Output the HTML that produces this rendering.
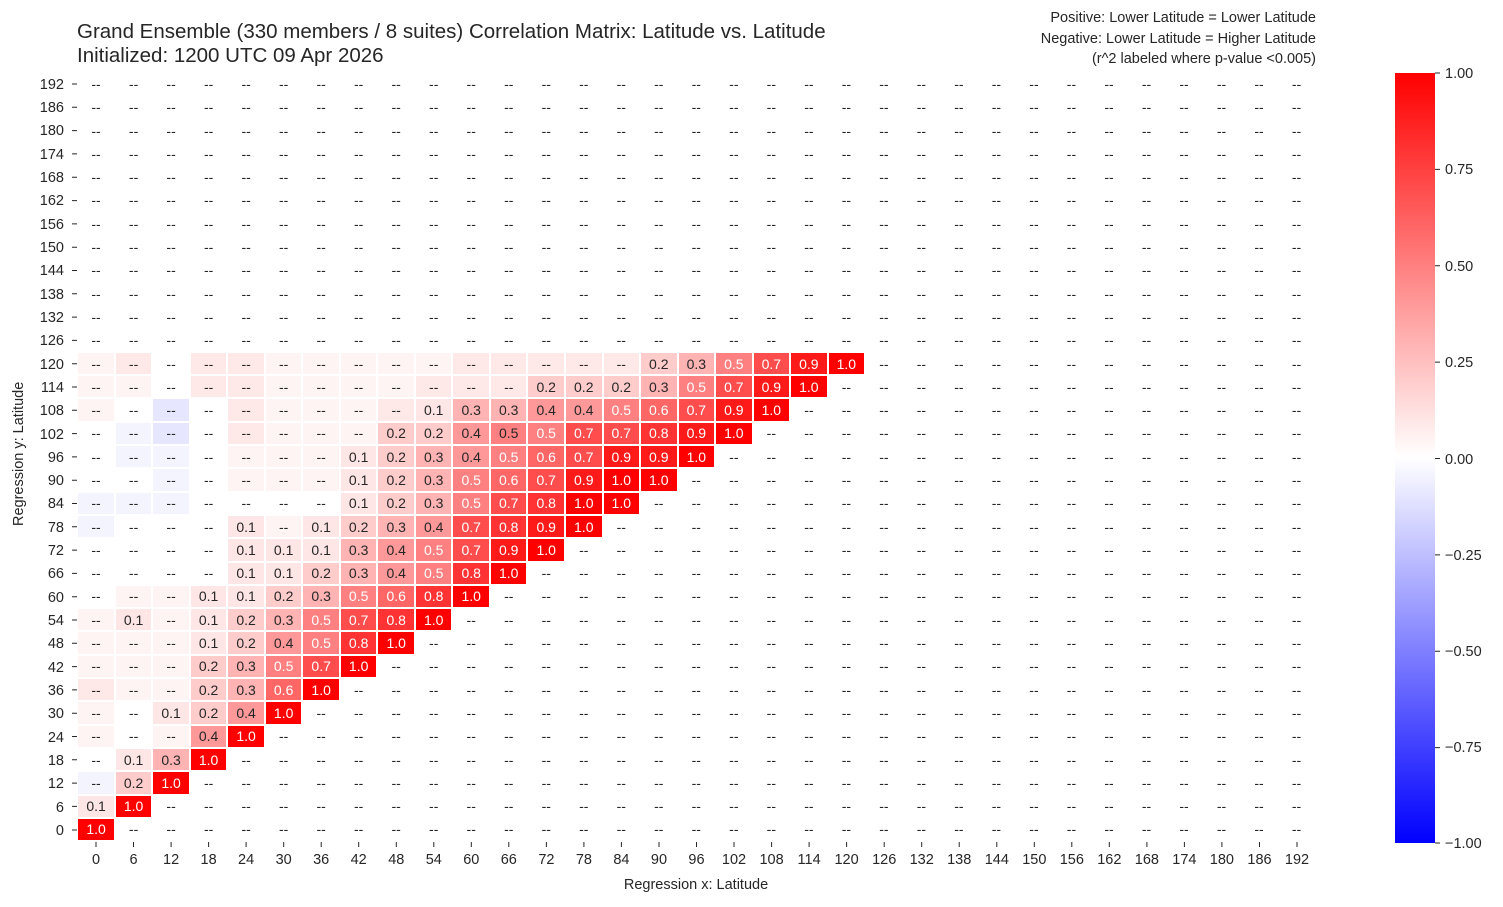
<!DOCTYPE html>
<html><head><meta charset="utf-8"><style>
body{margin:0;width:1503px;height:907px;background:#fff;font-family:"Liberation Sans",sans-serif;color:#262626;position:relative;overflow:hidden}
.t{position:absolute;white-space:nowrap}
.g{position:absolute;left:77.3px;top:72.3px;width:1238.5px}
.r{display:flex;height:23.31px}
.r i{width:37.53px;height:23.31px;box-sizing:border-box;border:0.5px solid #fff;display:flex;align-items:center;justify-content:center;font-style:normal;font-size:14px;color:#262626}
.p{background:#fff4f4}.q{background:#ffe8e8}.b{background:#f4f4ff}.bb{background:#e6e6ff}
.a1{background:#ffe6e6}.a2{background:#ffcccc}.a3{background:#ffb3b3}.a4{background:#ff9999}
.a5,.d{background:#ff8080}.a6{background:#ff6666}.a7{background:#ff4d4d}.a8{background:#ff3333}.a9{background:#ff1a1a}.a10{background:#ff0000}
.r .a5,.r .a6,.r .a7,.r .a8,.r .a9,.r .a10{color:#fff}
.yl{position:absolute;left:30px;width:34px;text-align:right;font-size:14.5px}
.xl{position:absolute;top:852px;width:40px;text-align:center;font-size:14.5px}
.cl{position:absolute;left:1445px;font-size:14.5px}
</style></head><body>
<div class="t" style="left:77px;top:20px;font-size:20.5px;line-height:24px">Grand Ensemble (330 members / 8 suites) Correlation Matrix: Latitude vs. Latitude<br>Initialized: 1200 UTC 09 Apr 2026</div>
<div class="t" style="right:187px;top:8px;font-size:14.5px;line-height:20.5px;text-align:right">Positive: Lower Latitude = Lower Latitude<br>Negative: Lower Latitude = Higher Latitude<br>(r^2 labeled where p-value &lt;0.005)</div>
<div class="g">
<div class="r"><i>--</i><i>--</i><i>--</i><i>--</i><i>--</i><i>--</i><i>--</i><i>--</i><i>--</i><i>--</i><i>--</i><i>--</i><i>--</i><i>--</i><i>--</i><i>--</i><i>--</i><i>--</i><i>--</i><i>--</i><i>--</i><i>--</i><i>--</i><i>--</i><i>--</i><i>--</i><i>--</i><i>--</i><i>--</i><i>--</i><i>--</i><i>--</i><i>--</i></div>
<div class="r"><i>--</i><i>--</i><i>--</i><i>--</i><i>--</i><i>--</i><i>--</i><i>--</i><i>--</i><i>--</i><i>--</i><i>--</i><i>--</i><i>--</i><i>--</i><i>--</i><i>--</i><i>--</i><i>--</i><i>--</i><i>--</i><i>--</i><i>--</i><i>--</i><i>--</i><i>--</i><i>--</i><i>--</i><i>--</i><i>--</i><i>--</i><i>--</i><i>--</i></div>
<div class="r"><i>--</i><i>--</i><i>--</i><i>--</i><i>--</i><i>--</i><i>--</i><i>--</i><i>--</i><i>--</i><i>--</i><i>--</i><i>--</i><i>--</i><i>--</i><i>--</i><i>--</i><i>--</i><i>--</i><i>--</i><i>--</i><i>--</i><i>--</i><i>--</i><i>--</i><i>--</i><i>--</i><i>--</i><i>--</i><i>--</i><i>--</i><i>--</i><i>--</i></div>
<div class="r"><i>--</i><i>--</i><i>--</i><i>--</i><i>--</i><i>--</i><i>--</i><i>--</i><i>--</i><i>--</i><i>--</i><i>--</i><i>--</i><i>--</i><i>--</i><i>--</i><i>--</i><i>--</i><i>--</i><i>--</i><i>--</i><i>--</i><i>--</i><i>--</i><i>--</i><i>--</i><i>--</i><i>--</i><i>--</i><i>--</i><i>--</i><i>--</i><i>--</i></div>
<div class="r"><i>--</i><i>--</i><i>--</i><i>--</i><i>--</i><i>--</i><i>--</i><i>--</i><i>--</i><i>--</i><i>--</i><i>--</i><i>--</i><i>--</i><i>--</i><i>--</i><i>--</i><i>--</i><i>--</i><i>--</i><i>--</i><i>--</i><i>--</i><i>--</i><i>--</i><i>--</i><i>--</i><i>--</i><i>--</i><i>--</i><i>--</i><i>--</i><i>--</i></div>
<div class="r"><i>--</i><i>--</i><i>--</i><i>--</i><i>--</i><i>--</i><i>--</i><i>--</i><i>--</i><i>--</i><i>--</i><i>--</i><i>--</i><i>--</i><i>--</i><i>--</i><i>--</i><i>--</i><i>--</i><i>--</i><i>--</i><i>--</i><i>--</i><i>--</i><i>--</i><i>--</i><i>--</i><i>--</i><i>--</i><i>--</i><i>--</i><i>--</i><i>--</i></div>
<div class="r"><i>--</i><i>--</i><i>--</i><i>--</i><i>--</i><i>--</i><i>--</i><i>--</i><i>--</i><i>--</i><i>--</i><i>--</i><i>--</i><i>--</i><i>--</i><i>--</i><i>--</i><i>--</i><i>--</i><i>--</i><i>--</i><i>--</i><i>--</i><i>--</i><i>--</i><i>--</i><i>--</i><i>--</i><i>--</i><i>--</i><i>--</i><i>--</i><i>--</i></div>
<div class="r"><i>--</i><i>--</i><i>--</i><i>--</i><i>--</i><i>--</i><i>--</i><i>--</i><i>--</i><i>--</i><i>--</i><i>--</i><i>--</i><i>--</i><i>--</i><i>--</i><i>--</i><i>--</i><i>--</i><i>--</i><i>--</i><i>--</i><i>--</i><i>--</i><i>--</i><i>--</i><i>--</i><i>--</i><i>--</i><i>--</i><i>--</i><i>--</i><i>--</i></div>
<div class="r"><i>--</i><i>--</i><i>--</i><i>--</i><i>--</i><i>--</i><i>--</i><i>--</i><i>--</i><i>--</i><i>--</i><i>--</i><i>--</i><i>--</i><i>--</i><i>--</i><i>--</i><i>--</i><i>--</i><i>--</i><i>--</i><i>--</i><i>--</i><i>--</i><i>--</i><i>--</i><i>--</i><i>--</i><i>--</i><i>--</i><i>--</i><i>--</i><i>--</i></div>
<div class="r"><i>--</i><i>--</i><i>--</i><i>--</i><i>--</i><i>--</i><i>--</i><i>--</i><i>--</i><i>--</i><i>--</i><i>--</i><i>--</i><i>--</i><i>--</i><i>--</i><i>--</i><i>--</i><i>--</i><i>--</i><i>--</i><i>--</i><i>--</i><i>--</i><i>--</i><i>--</i><i>--</i><i>--</i><i>--</i><i>--</i><i>--</i><i>--</i><i>--</i></div>
<div class="r"><i>--</i><i>--</i><i>--</i><i>--</i><i>--</i><i>--</i><i>--</i><i>--</i><i>--</i><i>--</i><i>--</i><i>--</i><i>--</i><i>--</i><i>--</i><i>--</i><i>--</i><i>--</i><i>--</i><i>--</i><i>--</i><i>--</i><i>--</i><i>--</i><i>--</i><i>--</i><i>--</i><i>--</i><i>--</i><i>--</i><i>--</i><i>--</i><i>--</i></div>
<div class="r"><i>--</i><i>--</i><i>--</i><i>--</i><i>--</i><i>--</i><i>--</i><i>--</i><i>--</i><i>--</i><i>--</i><i>--</i><i>--</i><i>--</i><i>--</i><i>--</i><i>--</i><i>--</i><i>--</i><i>--</i><i>--</i><i>--</i><i>--</i><i>--</i><i>--</i><i>--</i><i>--</i><i>--</i><i>--</i><i>--</i><i>--</i><i>--</i><i>--</i></div>
<!-- 120 -->
<div class="r"><i class="p">--</i><i class="q">--</i><i>--</i><i class="q">--</i><i class="q">--</i><i class="p">--</i><i class="p">--</i><i class="p">--</i><i class="p">--</i><i class="p">--</i><i class="q">--</i><i class="q">--</i><i class="q">--</i><i class="q">--</i><i class="q">--</i><i class="a2">0.2</i><i class="a3">0.3</i><i class="a5">0.5</i><i class="a7">0.7</i><i class="a9">0.9</i><i class="a10">1.0</i><i>--</i><i>--</i><i>--</i><i>--</i><i>--</i><i>--</i><i>--</i><i>--</i><i>--</i><i>--</i><i>--</i><i>--</i></div>
<!-- 114 -->
<div class="r"><i class="p">--</i><i class="p">--</i><i>--</i><i class="q">--</i><i class="q">--</i><i class="p">--</i><i class="p">--</i><i class="p">--</i><i class="p">--</i><i class="q">--</i><i class="q">--</i><i class="q">--</i><i class="a2">0.2</i><i class="a2">0.2</i><i class="a2">0.2</i><i class="a3">0.3</i><i class="a5">0.5</i><i class="a7">0.7</i><i class="a9">0.9</i><i class="a10">1.0</i><i>--</i><i>--</i><i>--</i><i>--</i><i>--</i><i>--</i><i>--</i><i>--</i><i>--</i><i>--</i><i>--</i><i>--</i><i>--</i></div>
<!-- 108 -->
<div class="r"><i class="p">--</i><i>--</i><i class="bb">--</i><i>--</i><i class="q">--</i><i class="p">--</i><i class="p">--</i><i class="p">--</i><i class="q">--</i><i class="a1">0.1</i><i class="a3">0.3</i><i class="a3">0.3</i><i class="a4">0.4</i><i class="a4">0.4</i><i class="a5">0.5</i><i class="a6">0.6</i><i class="a7">0.7</i><i class="a9">0.9</i><i class="a10">1.0</i><i>--</i><i>--</i><i>--</i><i>--</i><i>--</i><i>--</i><i>--</i><i>--</i><i>--</i><i>--</i><i>--</i><i>--</i><i>--</i><i>--</i></div>
<!-- 102 -->
<div class="r"><i>--</i><i class="b">--</i><i class="bb">--</i><i>--</i><i class="q">--</i><i class="p">--</i><i class="p">--</i><i class="p">--</i><i class="a2">0.2</i><i class="a2">0.2</i><i class="a4">0.4</i><i class="d">0.5</i><i class="a5">0.5</i><i class="a7">0.7</i><i class="a7">0.7</i><i class="a8">0.8</i><i class="a9">0.9</i><i class="a10">1.0</i><i>--</i><i>--</i><i>--</i><i>--</i><i>--</i><i>--</i><i>--</i><i>--</i><i>--</i><i>--</i><i>--</i><i>--</i><i>--</i><i>--</i><i>--</i></div>
<!-- 96 -->
<div class="r"><i>--</i><i class="b">--</i><i class="b">--</i><i>--</i><i class="p">--</i><i class="p">--</i><i class="p">--</i><i class="a1">0.1</i><i class="a2">0.2</i><i class="a3">0.3</i><i class="a4">0.4</i><i class="a5">0.5</i><i class="a6">0.6</i><i class="a7">0.7</i><i class="a9">0.9</i><i class="a9">0.9</i><i class="a10">1.0</i><i>--</i><i>--</i><i>--</i><i>--</i><i>--</i><i>--</i><i>--</i><i>--</i><i>--</i><i>--</i><i>--</i><i>--</i><i>--</i><i>--</i><i>--</i><i>--</i></div>
<!-- 90 -->
<div class="r"><i>--</i><i>--</i><i class="b">--</i><i>--</i><i class="p">--</i><i class="p">--</i><i class="p">--</i><i class="a1">0.1</i><i class="a2">0.2</i><i class="a3">0.3</i><i class="a5">0.5</i><i class="a6">0.6</i><i class="a7">0.7</i><i class="a9">0.9</i><i class="a10">1.0</i><i class="a10">1.0</i><i>--</i><i>--</i><i>--</i><i>--</i><i>--</i><i>--</i><i>--</i><i>--</i><i>--</i><i>--</i><i>--</i><i>--</i><i>--</i><i>--</i><i>--</i><i>--</i><i>--</i></div>
<!-- 84 -->
<div class="r"><i class="b">--</i><i class="b">--</i><i class="b">--</i><i>--</i><i>--</i><i>--</i><i>--</i><i class="a1">0.1</i><i class="a2">0.2</i><i class="a3">0.3</i><i class="a5">0.5</i><i class="a7">0.7</i><i class="a8">0.8</i><i class="a10">1.0</i><i class="a10">1.0</i><i>--</i><i>--</i><i>--</i><i>--</i><i>--</i><i>--</i><i>--</i><i>--</i><i>--</i><i>--</i><i>--</i><i>--</i><i>--</i><i>--</i><i>--</i><i>--</i><i>--</i><i>--</i></div>
<!-- 78 -->
<div class="r"><i class="b">--</i><i>--</i><i>--</i><i>--</i><i class="a1">0.1</i><i class="p">--</i><i class="a1">0.1</i><i class="a2">0.2</i><i class="a3">0.3</i><i class="a4">0.4</i><i class="a7">0.7</i><i class="a8">0.8</i><i class="a9">0.9</i><i class="a10">1.0</i><i>--</i><i>--</i><i>--</i><i>--</i><i>--</i><i>--</i><i>--</i><i>--</i><i>--</i><i>--</i><i>--</i><i>--</i><i>--</i><i>--</i><i>--</i><i>--</i><i>--</i><i>--</i><i>--</i></div>
<!-- 72 -->
<div class="r"><i>--</i><i>--</i><i>--</i><i>--</i><i class="a1">0.1</i><i class="a1">0.1</i><i class="a1">0.1</i><i class="a3">0.3</i><i class="a4">0.4</i><i class="a5">0.5</i><i class="a7">0.7</i><i class="a9">0.9</i><i class="a10">1.0</i><i>--</i><i>--</i><i>--</i><i>--</i><i>--</i><i>--</i><i>--</i><i>--</i><i>--</i><i>--</i><i>--</i><i>--</i><i>--</i><i>--</i><i>--</i><i>--</i><i>--</i><i>--</i><i>--</i><i>--</i></div>
<!-- 66 -->
<div class="r"><i>--</i><i>--</i><i>--</i><i>--</i><i class="a1">0.1</i><i class="a1">0.1</i><i class="a2">0.2</i><i class="a3">0.3</i><i class="a4">0.4</i><i class="a5">0.5</i><i class="a8">0.8</i><i class="a10">1.0</i><i>--</i><i>--</i><i>--</i><i>--</i><i>--</i><i>--</i><i>--</i><i>--</i><i>--</i><i>--</i><i>--</i><i>--</i><i>--</i><i>--</i><i>--</i><i>--</i><i>--</i><i>--</i><i>--</i><i>--</i><i>--</i></div>
<!-- 60 -->
<div class="r"><i>--</i><i class="p">--</i><i class="p">--</i><i class="a1">0.1</i><i class="a1">0.1</i><i class="a2">0.2</i><i class="a3">0.3</i><i class="a5">0.5</i><i class="a6">0.6</i><i class="a8">0.8</i><i class="a10">1.0</i><i>--</i><i>--</i><i>--</i><i>--</i><i>--</i><i>--</i><i>--</i><i>--</i><i>--</i><i>--</i><i>--</i><i>--</i><i>--</i><i>--</i><i>--</i><i>--</i><i>--</i><i>--</i><i>--</i><i>--</i><i>--</i><i>--</i></div>
<!-- 54 -->
<div class="r"><i class="p">--</i><i class="a1">0.1</i><i class="p">--</i><i class="a1">0.1</i><i class="a2">0.2</i><i class="a3">0.3</i><i class="a5">0.5</i><i class="a7">0.7</i><i class="a8">0.8</i><i class="a10">1.0</i><i>--</i><i>--</i><i>--</i><i>--</i><i>--</i><i>--</i><i>--</i><i>--</i><i>--</i><i>--</i><i>--</i><i>--</i><i>--</i><i>--</i><i>--</i><i>--</i><i>--</i><i>--</i><i>--</i><i>--</i><i>--</i><i>--</i><i>--</i></div>
<!-- 48 -->
<div class="r"><i class="p">--</i><i class="p">--</i><i class="p">--</i><i class="a1">0.1</i><i class="a2">0.2</i><i class="a4">0.4</i><i class="a5">0.5</i><i class="a8">0.8</i><i class="a10">1.0</i><i>--</i><i>--</i><i>--</i><i>--</i><i>--</i><i>--</i><i>--</i><i>--</i><i>--</i><i>--</i><i>--</i><i>--</i><i>--</i><i>--</i><i>--</i><i>--</i><i>--</i><i>--</i><i>--</i><i>--</i><i>--</i><i>--</i><i>--</i><i>--</i></div>
<!-- 42 -->
<div class="r"><i class="p">--</i><i class="p">--</i><i class="p">--</i><i class="a2">0.2</i><i class="a3">0.3</i><i class="a5">0.5</i><i class="a7">0.7</i><i class="a10">1.0</i><i>--</i><i>--</i><i>--</i><i>--</i><i>--</i><i>--</i><i>--</i><i>--</i><i>--</i><i>--</i><i>--</i><i>--</i><i>--</i><i>--</i><i>--</i><i>--</i><i>--</i><i>--</i><i>--</i><i>--</i><i>--</i><i>--</i><i>--</i><i>--</i><i>--</i></div>
<!-- 36 -->
<div class="r"><i class="q">--</i><i class="p">--</i><i class="p">--</i><i class="a2">0.2</i><i class="a3">0.3</i><i class="a6">0.6</i><i class="a10">1.0</i><i>--</i><i>--</i><i>--</i><i>--</i><i>--</i><i>--</i><i>--</i><i>--</i><i>--</i><i>--</i><i>--</i><i>--</i><i>--</i><i>--</i><i>--</i><i>--</i><i>--</i><i>--</i><i>--</i><i>--</i><i>--</i><i>--</i><i>--</i><i>--</i><i>--</i><i>--</i></div>
<!-- 30 -->
<div class="r"><i class="p">--</i><i>--</i><i class="a1">0.1</i><i class="a2">0.2</i><i class="a4">0.4</i><i class="a10">1.0</i><i>--</i><i>--</i><i>--</i><i>--</i><i>--</i><i>--</i><i>--</i><i>--</i><i>--</i><i>--</i><i>--</i><i>--</i><i>--</i><i>--</i><i>--</i><i>--</i><i>--</i><i>--</i><i>--</i><i>--</i><i>--</i><i>--</i><i>--</i><i>--</i><i>--</i><i>--</i><i>--</i></div>
<!-- 24 -->
<div class="r"><i class="p">--</i><i>--</i><i class="p">--</i><i class="a4">0.4</i><i class="a10">1.0</i><i>--</i><i>--</i><i>--</i><i>--</i><i>--</i><i>--</i><i>--</i><i>--</i><i>--</i><i>--</i><i>--</i><i>--</i><i>--</i><i>--</i><i>--</i><i>--</i><i>--</i><i>--</i><i>--</i><i>--</i><i>--</i><i>--</i><i>--</i><i>--</i><i>--</i><i>--</i><i>--</i><i>--</i></div>
<!-- 18 -->
<div class="r"><i>--</i><i class="a1">0.1</i><i class="a3">0.3</i><i class="a10">1.0</i><i>--</i><i>--</i><i>--</i><i>--</i><i>--</i><i>--</i><i>--</i><i>--</i><i>--</i><i>--</i><i>--</i><i>--</i><i>--</i><i>--</i><i>--</i><i>--</i><i>--</i><i>--</i><i>--</i><i>--</i><i>--</i><i>--</i><i>--</i><i>--</i><i>--</i><i>--</i><i>--</i><i>--</i><i>--</i></div>
<!-- 12 -->
<div class="r"><i class="b">--</i><i class="a2">0.2</i><i class="a10">1.0</i><i>--</i><i>--</i><i>--</i><i>--</i><i>--</i><i>--</i><i>--</i><i>--</i><i>--</i><i>--</i><i>--</i><i>--</i><i>--</i><i>--</i><i>--</i><i>--</i><i>--</i><i>--</i><i>--</i><i>--</i><i>--</i><i>--</i><i>--</i><i>--</i><i>--</i><i>--</i><i>--</i><i>--</i><i>--</i><i>--</i></div>
<!-- 6 -->
<div class="r"><i class="a1">0.1</i><i class="a10">1.0</i><i>--</i><i>--</i><i>--</i><i>--</i><i>--</i><i>--</i><i>--</i><i>--</i><i>--</i><i>--</i><i>--</i><i>--</i><i>--</i><i>--</i><i>--</i><i>--</i><i>--</i><i>--</i><i>--</i><i>--</i><i>--</i><i>--</i><i>--</i><i>--</i><i>--</i><i>--</i><i>--</i><i>--</i><i>--</i><i>--</i><i>--</i></div>
<!-- 0 -->
<div class="r"><i class="a10">1.0</i><i>--</i><i>--</i><i>--</i><i>--</i><i>--</i><i>--</i><i>--</i><i>--</i><i>--</i><i>--</i><i>--</i><i>--</i><i>--</i><i>--</i><i>--</i><i>--</i><i>--</i><i>--</i><i>--</i><i>--</i><i>--</i><i>--</i><i>--</i><i>--</i><i>--</i><i>--</i><i>--</i><i>--</i><i>--</i><i>--</i><i>--</i><i>--</i></div>
</div>

<svg style="position:absolute;left:0;top:0" width="1503" height="907">
<g stroke="#262626" stroke-width="1">
<path d="M72 84h5M72 107.3h5M72 130.6h5M72 153.9h5M72 177.2h5M72 200.6h5M72 223.9h5M72 247.2h5M72 270.5h5M72 293.8h5M72 317.1h5M72 340.4h5M72 363.7h5M72 387h5M72 410.3h5M72 433.6h5M72 456.9h5M72 480.2h5M72 503.5h5M72 526.8h5M72 550.1h5M72 573.4h5M72 596.7h5M72 620h5M72 643.3h5M72 666.6h5M72 689.9h5M72 713.2h5M72 736.5h5M72 759.8h5M72 783.1h5M72 806.4h5M72 830h5"/>
<path d="M96 842v5M133.5 842v5M171.1 842v5M208.6 842v5M246.1 842v5M283.7 842v5M321.2 842v5M358.7 842v5M396.3 842v5M433.8 842v5M471.3 842v5M508.8 842v5M546.4 842v5M583.9 842v5M621.4 842v5M659 842v5M696.5 842v5M734 842v5M771.6 842v5M809.1 842v5M846.6 842v5M884.2 842v5M921.7 842v5M959.2 842v5M996.8 842v5M1034.3 842v5M1071.8 842v5M1109.3 842v5M1146.9 842v5M1184.4 842v5M1221.9 842v5M1259.5 842v5M1297 842v5"/>
<path d="M1435 73h5M1435 169.4h5M1435 265.8h5M1435 362.1h5M1435 458.5h5M1435 554.9h5M1435 651.3h5M1435 747.6h5M1435 843h5"/>
</g>
<defs><linearGradient id="cb" x1="0" y1="0" x2="0" y2="1"><stop offset="0" stop-color="#ff0000"/><stop offset="0.5" stop-color="#ffffff"/><stop offset="1" stop-color="#0000ff"/></linearGradient></defs>
<rect x="1395" y="73" width="40" height="770" fill="url(#cb)"/>
</svg>

<div class="yl" style="top:77px">192</div><div class="yl" style="top:100px">186</div><div class="yl" style="top:123px">180</div><div class="yl" style="top:147px">174</div><div class="yl" style="top:170px">168</div><div class="yl" style="top:193px">162</div><div class="yl" style="top:217px">156</div><div class="yl" style="top:240px">150</div><div class="yl" style="top:263px">144</div><div class="yl" style="top:287px">138</div><div class="yl" style="top:310px">132</div><div class="yl" style="top:333px">126</div><div class="yl" style="top:357px">120</div><div class="yl" style="top:380px">114</div><div class="yl" style="top:403px">108</div><div class="yl" style="top:427px">102</div><div class="yl" style="top:450px">96</div><div class="yl" style="top:473px">90</div><div class="yl" style="top:496px">84</div><div class="yl" style="top:520px">78</div><div class="yl" style="top:543px">72</div><div class="yl" style="top:566px">66</div><div class="yl" style="top:590px">60</div><div class="yl" style="top:613px">54</div><div class="yl" style="top:636px">48</div><div class="yl" style="top:660px">42</div><div class="yl" style="top:683px">36</div><div class="yl" style="top:706px">30</div><div class="yl" style="top:730px">24</div><div class="yl" style="top:753px">18</div><div class="yl" style="top:776px">12</div><div class="yl" style="top:800px">6</div><div class="yl" style="top:823px">0</div>

<div class="xl" style="left:76px">0</div><div class="xl" style="left:113.5px">6</div><div class="xl" style="left:151.1px">12</div><div class="xl" style="left:188.6px">18</div><div class="xl" style="left:226.1px">24</div><div class="xl" style="left:263.7px">30</div><div class="xl" style="left:301.2px">36</div><div class="xl" style="left:338.7px">42</div><div class="xl" style="left:376.3px">48</div><div class="xl" style="left:413.8px">54</div><div class="xl" style="left:451.3px">60</div><div class="xl" style="left:488.8px">66</div><div class="xl" style="left:526.4px">72</div><div class="xl" style="left:563.9px">78</div><div class="xl" style="left:601.4px">84</div><div class="xl" style="left:639px">90</div><div class="xl" style="left:676.5px">96</div><div class="xl" style="left:714px">102</div><div class="xl" style="left:751.6px">108</div><div class="xl" style="left:789.1px">114</div><div class="xl" style="left:826.6px">120</div><div class="xl" style="left:864.2px">126</div><div class="xl" style="left:901.7px">132</div><div class="xl" style="left:939.2px">138</div><div class="xl" style="left:976.8px">144</div><div class="xl" style="left:1014.3px">150</div><div class="xl" style="left:1051.8px">156</div><div class="xl" style="left:1089.3px">162</div><div class="xl" style="left:1126.9px">168</div><div class="xl" style="left:1164.4px">174</div><div class="xl" style="left:1201.9px">180</div><div class="xl" style="left:1239.5px">186</div><div class="xl" style="left:1277px">192</div>

<div class="t" style="left:596px;top:877px;width:200px;text-align:center;font-size:14.5px">Regression x: Latitude</div>
<div class="t" style="left:-51px;top:448px;width:140px;text-align:center;font-size:14.5px;transform:rotate(-90deg)">Regression y: Latitude</div>

<div class="cl" style="top:66px">1.00</div><div class="cl" style="top:162px">0.75</div><div class="cl" style="top:259px">0.50</div><div class="cl" style="top:355px">0.25</div><div class="cl" style="top:452px">0.00</div><div class="cl" style="top:548px">−0.25</div><div class="cl" style="top:644px">−0.50</div><div class="cl" style="top:740px">−0.75</div><div class="cl" style="top:836px">−1.00</div>
</body></html>
